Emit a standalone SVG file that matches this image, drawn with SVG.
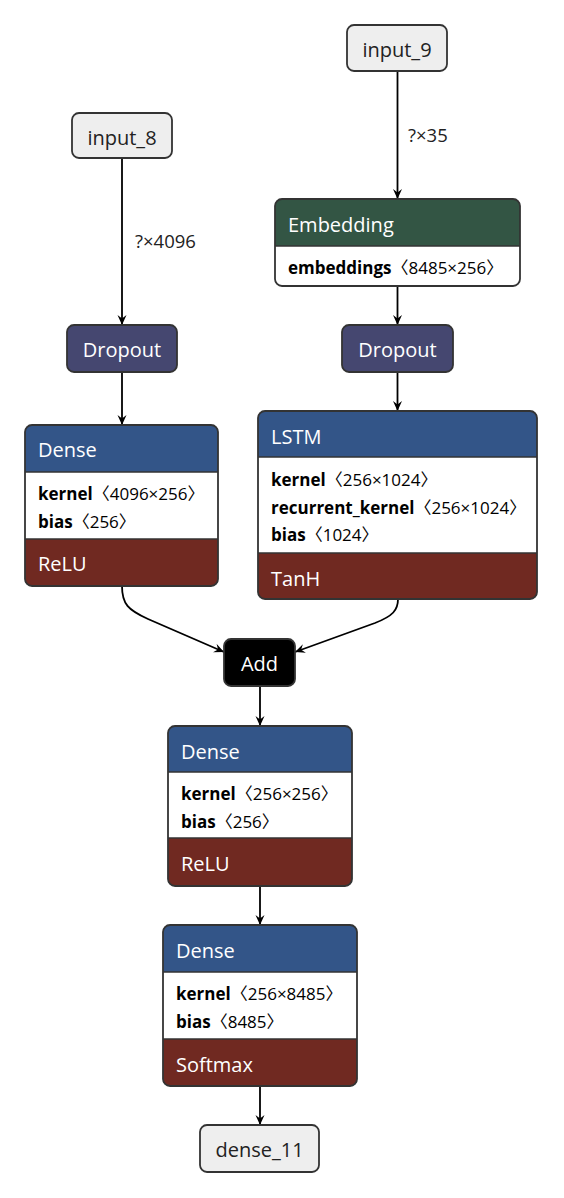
<svg xmlns="http://www.w3.org/2000/svg" width="564" height="1198" viewBox="0 0 564 1198">
<style>
text{font-family:"Open Sans","Noto Sans CJK SC",sans-serif;}
.box{stroke:#333;stroke-width:1.8;}
.out{fill:none;stroke:#333;stroke-width:1.8;}
.sep{stroke:#333;stroke-width:1.4;}
.in{fill:#eeeeee;}
.lbl{font-size:20px;fill:#222;text-anchor:middle;}
.wlbl{font-size:20px;fill:#fff;text-anchor:middle;}
.hdr{font-size:20px;fill:#fff;}
.attr{font-size:17px;fill:#000;}
.b{font-weight:bold;}
.layer{fill:#335588;}
.act{fill:#702921;}
.drop{fill:#454770;}
.trans{fill:#335544;}
.edge{fill:none;stroke:#000;stroke-width:1.8;}
.elbl{font-size:18.5px;fill:#222;}
</style>
<defs>
<marker id="arr" viewBox="0 0 10 10" refX="10" refY="5" markerWidth="10" markerHeight="10" markerUnits="userSpaceOnUse" orient="auto">
<path d="M0,0.5 L10,5 L0,9.5 L3.5,5 Z" fill="#000"/>
</marker>
</defs>
<rect width="564" height="1198" fill="#fff"/>

<g id="connectors">
<path class="edge" d="M122,159 V325" marker-end="url(#arr)"/>
<text class="elbl" x="135" y="248">?×4096</text>
<path class="edge" d="M397.5,72 V199" marker-end="url(#arr)"/>
<text class="elbl" x="408" y="142">?×35</text>
<path class="edge" d="M397.5,286 V325" marker-end="url(#arr)"/>
<path class="edge" d="M122,372 V425" marker-end="url(#arr)"/>
<path class="edge" d="M397.5,372 V411" marker-end="url(#arr)"/>
<path class="edge" d="M122,586 C122,604 128,610 148,619 L224,652" marker-end="url(#arr)"/>
<path class="edge" d="M398,599 C398,610 393,616 375,623 L295,652" marker-end="url(#arr)"/>
<path class="edge" d="M260,686 V726" marker-end="url(#arr)"/>
<path class="edge" d="M260,886 V925" marker-end="url(#arr)"/>
<path class="edge" d="M260,1086 V1125" marker-end="url(#arr)"/>
</g>

<g id="input_8">
<rect class="box in" x="72" y="113" width="100" height="45" rx="7"/>
<text class="lbl" x="122" y="145">input_8</text>
</g>

<g id="input_9">
<rect class="box in" x="347" y="25" width="100" height="46" rx="7"/>
<text class="lbl" x="397" y="57">input_9</text>
</g>

<g id="embedding">
<rect x="275" y="199" width="245" height="87" rx="7" fill="#fff"/>
<path class="trans" d="M275,246 V206 Q275,199 282,199 H513 Q520,199 520,206 V246 Z"/>
<line class="sep" x1="275" y1="246" x2="520" y2="246"/>
<rect class="out" x="275" y="199" width="245" height="87" rx="7"/>
<text class="hdr" x="288" y="231.5">Embedding</text>
<text class="attr" x="288" y="273.5"><tspan class="b">embeddings</tspan>〈8485×256〉</text>
</g>

<g id="dropout_1">
<rect class="box drop" x="67" y="325" width="110" height="47" rx="7"/>
<text class="wlbl" x="122" y="357">Dropout</text>
</g>

<g id="dropout_2">
<rect class="box drop" x="342" y="325" width="111" height="47" rx="7"/>
<text class="wlbl" x="397.5" y="357">Dropout</text>
</g>

<g id="dense_1">
<rect x="25" y="425" width="193" height="161" rx="7" fill="#fff"/>
<path class="layer" d="M25,472 V432 Q25,425 32,425 H211 Q218,425 218,432 V472 Z"/>
<path class="act" d="M25,539 H218 V579 Q218,586 211,586 H32 Q25,586 25,579 Z"/>
<line class="sep" x1="25" y1="472" x2="218" y2="472"/>
<line class="sep" x1="25" y1="539" x2="218" y2="539"/>
<rect class="out" x="25" y="425" width="193" height="161" rx="7"/>
<text class="hdr" x="38" y="457">Dense</text>
<text class="attr" x="38" y="500"><tspan class="b">kernel</tspan>〈4096×256〉</text>
<text class="attr" x="38" y="527.5"><tspan class="b">bias</tspan>〈256〉</text>
<text class="hdr" x="38" y="571">ReLU</text>
</g>

<g id="lstm">
<rect x="258" y="411" width="279" height="188" rx="7" fill="#fff"/>
<path class="layer" d="M258,457 V418 Q258,411 265,411 H530 Q537,411 537,418 V457 Z"/>
<path class="act" d="M258,553 H537 V592 Q537,599 530,599 H265 Q258,599 258,592 Z"/>
<line class="sep" x1="258" y1="457" x2="537" y2="457"/>
<line class="sep" x1="258" y1="553" x2="537" y2="553"/>
<rect class="out" x="258" y="411" width="279" height="188" rx="7"/>
<text class="hdr" x="271" y="443.5">LSTM</text>
<text class="attr" x="271" y="486"><tspan class="b">kernel</tspan>〈256×1024〉</text>
<text class="attr" x="271" y="513.5"><tspan class="b">recurrent_kernel</tspan>〈256×1024〉</text>
<text class="attr" x="271" y="541"><tspan class="b">bias</tspan>〈1024〉</text>
<text class="hdr" x="271" y="585.5">TanH</text>
</g>

<g id="add">
<rect x="224" y="639" width="71" height="47" rx="7" fill="#000" stroke="#333" stroke-width="1.8"/>
<text class="wlbl" x="259.5" y="671">Add</text>
</g>

<g id="dense_2">
<rect x="168" y="726" width="184" height="160" rx="7" fill="#fff"/>
<path class="layer" d="M168,772 V733 Q168,726 175,726 H345 Q352,726 352,733 V772 Z"/>
<path class="act" d="M168,838 H352 V879 Q352,886 345,886 H175 Q168,886 168,879 Z"/>
<line class="sep" x1="168" y1="772" x2="352" y2="772"/>
<line class="sep" x1="168" y1="838" x2="352" y2="838"/>
<rect class="out" x="168" y="726" width="184" height="160" rx="7"/>
<text class="hdr" x="181" y="758.5">Dense</text>
<text class="attr" x="181" y="800"><tspan class="b">kernel</tspan>〈256×256〉</text>
<text class="attr" x="181" y="827.5"><tspan class="b">bias</tspan>〈256〉</text>
<text class="hdr" x="181" y="871">ReLU</text>
</g>

<g id="dense_3">
<rect x="163" y="925" width="194" height="161" rx="7" fill="#fff"/>
<path class="layer" d="M163,972 V932 Q163,925 170,925 H350 Q357,925 357,932 V972 Z"/>
<path class="act" d="M163,1039 H357 V1079 Q357,1086 350,1086 H170 Q163,1086 163,1079 Z"/>
<line class="sep" x1="163" y1="972" x2="357" y2="972"/>
<line class="sep" x1="163" y1="1039" x2="357" y2="1039"/>
<rect class="out" x="163" y="925" width="194" height="161" rx="7"/>
<text class="hdr" x="176" y="957.5">Dense</text>
<text class="attr" x="176" y="1000"><tspan class="b">kernel</tspan>〈256×8485〉</text>
<text class="attr" x="176" y="1027.5"><tspan class="b">bias</tspan>〈8485〉</text>
<text class="hdr" x="176" y="1071.5">Softmax</text>
</g>

<g id="dense_11">
<rect class="box in" x="200" y="1125" width="119" height="47" rx="7"/>
<text class="lbl" x="259.5" y="1157">dense_11</text>
</g>
</svg>
